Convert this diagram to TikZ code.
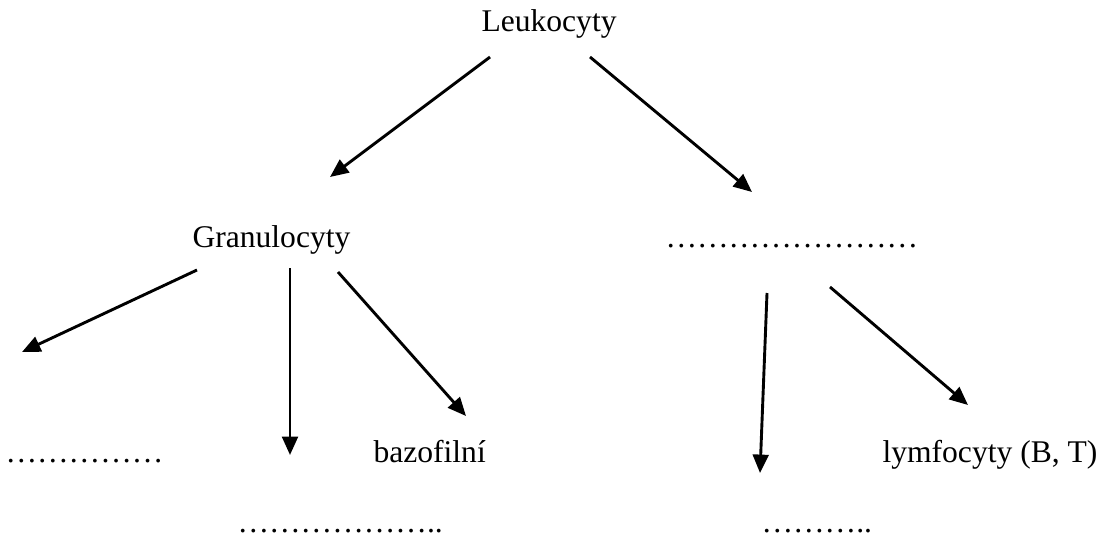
\documentclass[tikz,border=0pt]{standalone}
\usepackage{fontspec}
\setmainfont{Liberation Serif}
\usetikzlibrary{arrows.meta}

\begin{document}
\begin{tikzpicture}[x=0.38pt,y=-0.38pt,font=\fontsize{12}{14}\selectfont,
lbl/.style={anchor=base west,inner sep=0pt},
arr/.style={-{Triangle[length=7pt,width=6pt]},line width=1.1pt}]
\useasboundingbox (0,0) rectangle (1107,536);
% labels
\node[lbl] (leuk) at (481,32) {Leukocyty};
\node[lbl] (gran) at (192,248) {Granulocyty};
\node[lbl] (agran) at (665,248) {……………………};
\node[lbl] (neutro) at (5,462) {……………};
\node[lbl] (eozino) at (237,532) {………………..};
\node[lbl] (bazo) at (373,462) {bazofilní};
\node[lbl] (mono) at (761,532) {………..};
\node[lbl] (lymfo) at (882,462) {lymfocyty (B, T)};
% arrow ends
\coordinate (l1) at (490,57); \coordinate (l1e) at (330,177);
\coordinate (l2) at (590,57); \coordinate (l2e) at (752,192);
\coordinate (g1) at (197,270); \coordinate (g1e) at (22,352);
\coordinate (g2) at (290,268); \coordinate (g2e) at (290,455);
\coordinate (g3) at (338,272); \coordinate (g3e) at (466,416);
\coordinate (a1) at (767,293); \coordinate (a1e) at (760,473);
\coordinate (a2) at (830,287); \coordinate (a2e) at (968,405);
\draw[arr] (l1)--(l1e);\draw[arr] (l2)--(l2e);
\draw[arr] (g1)--(g1e);\draw[arr] (g2)--(g2e);\draw[arr] (g3)--(g3e);
\draw[arr] (a1)--(a1e);\draw[arr] (a2)--(a2e);
\end{tikzpicture}
\end{document}
